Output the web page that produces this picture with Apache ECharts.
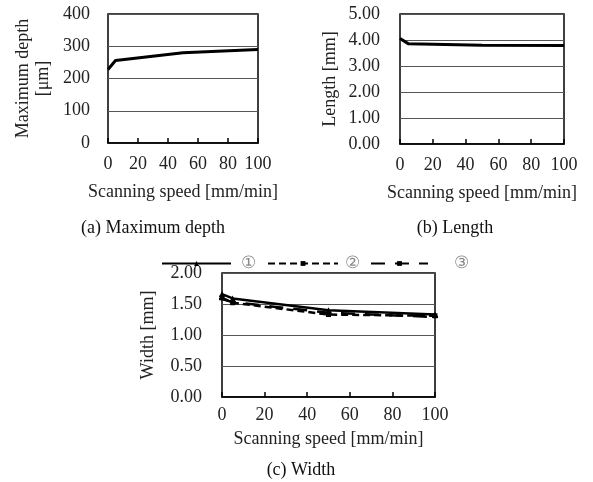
<!DOCTYPE html>
<html><head><meta charset="utf-8">
<script src="https://cdn.jsdelivr.net/npm/echarts@6/dist/echarts.min.js"></script>
<style>html,body{margin:0;padding:0;background:#fff}#c{width:593px;height:482px}</style>
</head><body><div id="c"></div>
<script>
// Data
const speedA = [0, 5, 50, 100];
const depth = [228, 256, 280, 290];
const speedB = [0, 5, 50, 100];
const lengthMM = [4.06, 3.86, 3.80, 3.79];
const speedC = [0, 5, 50, 100];
const width1 = [1.66, 1.59, 1.40, 1.33];
const width2 = [1.60, 1.52, 1.33, 1.31];
const width3 = [1.58, 1.53, 1.36, 1.29];
const seriesNames = ['①', '②', '③'];
const captions = ['(a) Maximum depth', '(b) Length', '(c) Width'];

const FONT = '"Liberation Serif","Times New Roman",serif';
const FS = 18;
const TXT = '#222';
const pairs = (xs, ys) => xs.map((x, i) => [x, ys[i]]);

function xAx(idx, labelMargin, nameGap) {
  return {
    gridIndex: idx, type: 'value', min: 0, max: 100, interval: 20,
    name: 'Scanning speed [mm/min]', nameLocation: 'middle', nameGap: nameGap,
    nameTextStyle: { fontFamily: FONT, fontSize: FS, color: TXT },
    axisLine: { show: true, lineStyle: { color: '#000', width: 1.5 } },
    axisTick: { show: true, inside: true, length: 5, lineStyle: { color: '#000', width: 1.5 } },
    axisLabel: { fontFamily: FONT, fontSize: FS, color: TXT, margin: labelMargin },
    splitLine: { show: false }
  };
}
function yAx(idx, max, interval, name, nameGap, dec, labelMargin) {
  return {
    gridIndex: idx, type: 'value', min: 0, max: max, interval: interval,
    name: name, nameLocation: 'middle', nameGap: nameGap,
    nameTextStyle: { fontFamily: FONT, fontSize: FS, color: TXT, lineHeight: 20 },
    axisLine: { show: false }, axisTick: { show: false },
    axisLabel: { fontFamily: FONT, fontSize: FS, color: TXT, margin: labelMargin,
      formatter: v => dec ? v.toFixed(dec) : String(v) },
    splitLine: { show: true, lineStyle: { color: '#555', width: 1 } }
  };
}
const gridBase = { show: true, borderColor: '#000', borderWidth: 1.5, backgroundColor: '#fff', containLabel: false };
function leg(name, left, w, pad) {
  return {
    top: 255, left: left, padding: 0, itemWidth: w, itemHeight: 6, itemGap: 0,
    textStyle: { fontFamily: FONT, fontSize: 17, color: '#888', padding: [0, 0, 0, pad] },
    data: [name]
  };
}

const option = {
  animation: false,
  backgroundColor: '#fff',
  grid: [
    Object.assign({ left: 108, top: 14, width: 150, height: 129 }, gridBase),
    Object.assign({ left: 400, top: 14, width: 164, height: 130 }, gridBase),
    Object.assign({ left: 222, top: 273, width: 213, height: 124 }, gridBase)
  ],
  xAxis: [xAx(0, 12, 40), xAx(1, 12, 40), xAx(2, 9, 33)],
  yAxis: [
    yAx(0, 400, 100, 'Maximum depth\n[μm]', 55, 0, 18),
    yAx(1, 5, 1, 'Length [mm]', 60, 2, 20),
    yAx(2, 2, 0.5, 'Width [mm]', 64, 2, 20)
  ],
  legend: [
    leg(seriesNames[0], 161, 69, 5),
    leg(seriesNames[1], 267, 70, 2),
    leg(seriesNames[2], 370, 57, 21)
  ],
  series: [
    { type: 'line', xAxisIndex: 0, yAxisIndex: 0, data: pairs(speedA, depth),
      symbol: 'none', lineStyle: { color: '#000', width: 3 } },
    { type: 'line', xAxisIndex: 1, yAxisIndex: 1, data: pairs(speedB, lengthMM),
      symbol: 'none', lineStyle: { color: '#000', width: 3 } },
    { name: seriesNames[0], type: 'line', xAxisIndex: 2, yAxisIndex: 2, data: pairs(speedC, width1),
      symbol: 'triangle', symbolSize: 6, itemStyle: { color: '#000' },
      lineStyle: { color: '#000', width: 2.5, type: 'solid' } },
    { name: seriesNames[1], type: 'line', xAxisIndex: 2, yAxisIndex: 2, data: pairs(speedC, width2),
      symbol: 'rect', symbolSize: 5, itemStyle: { color: '#000' },
      lineStyle: { color: '#000', width: 2.5, type: [7, 4] } },
    { name: seriesNames[2], type: 'line', xAxisIndex: 2, yAxisIndex: 2, data: pairs(speedC, width3),
      symbol: 'rect', symbolSize: [6, 2], itemStyle: { color: '#000' },
      lineStyle: { color: '#000', width: 2.5, type: [14, 10] } }
  ],
  graphic: [
    { type: 'text', x: 153, y: 228, style: { text: captions[0], font: FS + 'px ' + FONT, fill: '#111', textAlign: 'center', textVerticalAlign: 'middle' } },
    { type: 'text', x: 455, y: 228, style: { text: captions[1], font: FS + 'px ' + FONT, fill: '#111', textAlign: 'center', textVerticalAlign: 'middle' } },
    { type: 'text', x: 301, y: 470, style: { text: captions[2], font: FS + 'px ' + FONT, fill: '#111', textAlign: 'center', textVerticalAlign: 'middle' } }
  ]
};
const chart = echarts.init(document.getElementById('c'), null, { renderer: 'canvas' });
chart.setOption(option);
</script></body></html>
